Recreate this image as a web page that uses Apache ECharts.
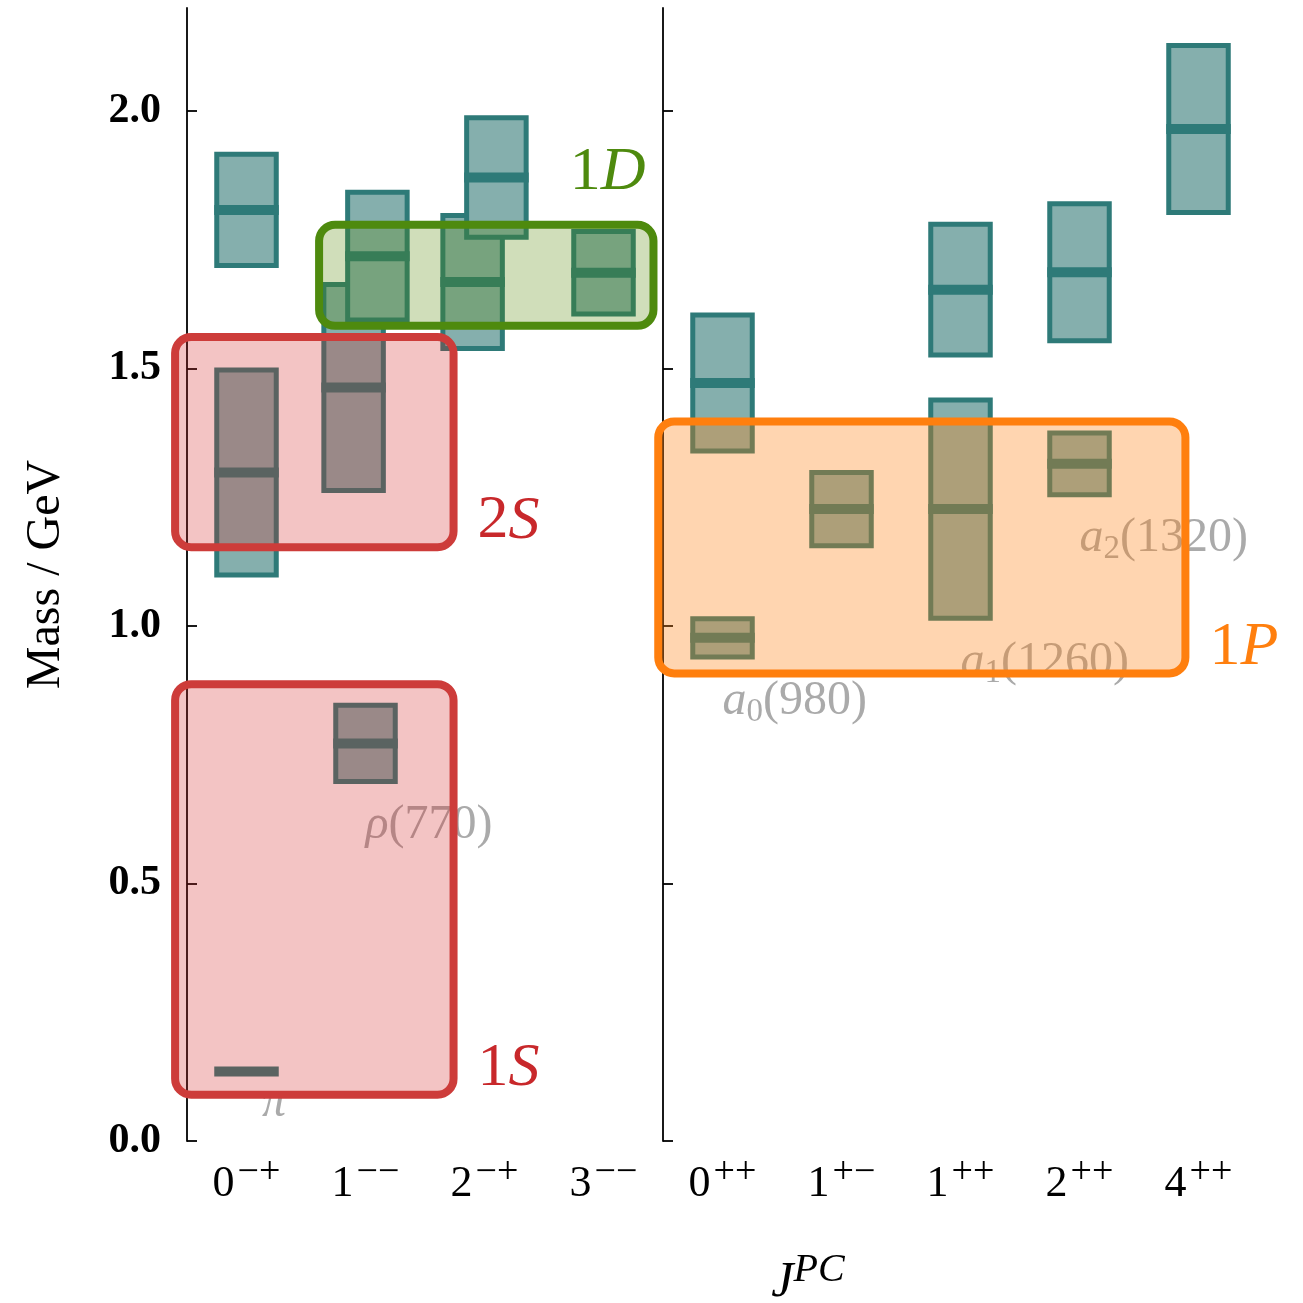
<!DOCTYPE html>
<html>
<head>
<meta charset="utf-8">
<script src="https://cdn.jsdelivr.net/npm/echarts@6/dist/echarts.min.js"></script>
<style>
  html, body { margin: 0; padding: 0; background: #fff; }
  #chart { width: 1303px; height: 1303px; }
</style>
</head>
<body>
<div id="chart"></div>
<script>
// J^PC channels of the two panels: [J, PC]
const leftChannels = [['0', '−+'], ['1', '−−'], ['2', '−+'], ['3', '−−']];
const rightChannels = [['0', '++'], ['1', '+−'], ['1', '++'], ['2', '++'], ['4', '++']];
const massTicks = [0, 0.5, 1.0, 1.5, 2.0];

// Meson states: panel, channel, mass (GeV), uncertainty (GeV), column slot inside the channel
const statePanel   = [0, 0, 0, 0, 0, 0, 0, 0, 0, 1, 1, 1, 1, 1, 1, 1, 1];
const stateChannel = [0, 0, 0, 1, 1, 1, 2, 2, 3, 0, 0, 1, 2, 2, 3, 3, 4];
const stateMass    = [0.135, 1.298, 1.808, 0.772, 1.463, 1.718, 1.668, 1.871, 1.686,
                      0.977, 1.472, 1.227, 1.227, 1.653, 1.315, 1.687, 1.965];
const stateError   = [0.0, 0.199, 0.108, 0.074, 0.200, 0.124, 0.129, 0.116, 0.080,
                      0.037, 0.132, 0.071, 0.212, 0.127, 0.060, 0.133, 0.162];
const stateSlot    = [0, 0, 0, 0, -1, 1, -1, 1, 0, 0, 0, 0, 0, 0, 0, 0, 0];
const stateName    = ['π', '', '', 'ρ(770)', '', '', '', '', '',
                      'a_0(980)', '', '', 'a_1(1260)', '', 'a_2(1320)', '', ''];

// Multiplets: panel, channel range and mass range they enclose
const multipletName  = ['1S', '2S', '1D', '1P'];
const multipletPanel = [0, 0, 0, 1];
const multipletFrom  = [-0.60, -0.60, 0.61, -0.54];
const multipletTo    = [1.74, 1.74, 3.42, 3.89];
const multipletLow   = [0.090, 1.153, 1.583, 0.908];
const multipletHigh  = [0.887, 1.561, 1.779, 1.397];

const SERIF = '"Liberation Serif", "DejaVu Serif", serif';
const TEAL = '#2e7a78';
const TEAL_FILL = '#85afad';
const NAME_GRAY = '#aaaaaa';
const multipletStyle = [
  { stroke: '#cd3c3a', fill: 'rgba(210,38,38,0.27)', text: '#c8282b', place: 'right' },
  { stroke: '#cd3c3a', fill: 'rgba(210,38,38,0.27)', text: '#c8282b', place: 'right' },
  { stroke: '#4e8a0e', fill: 'rgba(81,133,0,0.27)', text: '#4e8a0e', place: 'above' },
  { stroke: '#ff7f0e', fill: 'rgba(255,127,14,0.33)', text: '#ff7f0e', place: 'right' }
];

function channelLabel(channels) {
  return function (v) {
    const c = channels[Math.round(v)];
    return c ? '{n|' + c[0] + '}{g|}{s|' + c[1] + '}' : '';
  };
}

function parseName(name) {
  const m = name.match(/^([^_(]+)(?:_(\w+))?(\(.*\))?$/);
  return { sym: m[1], sub: m[2] || '', num: m[3] || '' };
}

function stateRich(p) {
  let s = '{sym|' + p.sym + '}';
  if (p.sub) s += '{sub|' + p.sub + '}';
  if (p.num) s += '{num|' + p.num + '}';
  return s;
}

function stateData(panel) {
  const out = [];
  for (let i = 0; i < stateMass.length; i++) {
    if (statePanel[i] === panel) out.push([stateChannel[i], stateMass[i], stateError[i], stateSlot[i], i]);
  }
  return out;
}

function multipletData(panel) {
  const out = [];
  for (let i = 0; i < multipletName.length; i++) {
    if (multipletPanel[i] === panel) out.push([i, multipletFrom[i], multipletTo[i], multipletLow[i], multipletHigh[i]]);
  }
  return out;
}

function stateGeom(api) {
  const ch = api.value(0), m = api.value(1), e = api.value(2), slot = api.value(3);
  const bw = api.size([1, 0])[0];
  const c = api.coord([ch, m]);
  const cx = c[0] + slot * 0.1 * bw;
  const top = api.coord([ch, m + e])[1];
  const bot = api.coord([ch, m - e])[1];
  return { cx: cx, cy: c[1], top: top, bot: bot, w: bw / 2, bw: bw };
}

function renderState(params, api) {
  const g = stateGeom(api);
  return {
    type: 'group',
    children: [
      {
        type: 'rect',
        shape: { x: g.cx - g.w / 2, y: g.top, width: g.w, height: g.bot - g.top },
        style: { fill: TEAL_FILL, stroke: TEAL, lineWidth: 5 }
      },
      {
        type: 'rect',
        shape: { x: g.cx - g.w / 2 - 2.5, y: g.cy - 5, width: g.w + 5, height: 10 },
        style: { fill: TEAL }
      }
    ]
  };
}

function renderStateName(params, api) {
  const name = stateName[api.value(4)];
  if (!name) return null;
  const g = stateGeom(api);
  const p = parseName(name);
  // a bare symbol has no tall glyphs, so its ink starts lower: lift and nudge it
  const bare = !p.num;
  return {
    type: 'text',
    x: g.cx + (bare ? 0.13 * g.bw : 0),
    y: g.bot + (bare ? 6 : 18),
    style: {
      text: stateRich(p),
      fill: NAME_GRAY,
      align: 'left',
      verticalAlign: 'top',
      fontSize: 48,
      fontFamily: SERIF,
      rich: {
        sym: { fontSize: 48, fontFamily: SERIF, fontStyle: 'italic', lineHeight: 52 },
        sub: { fontSize: 33, fontFamily: SERIF, lineHeight: 30, height: 30, verticalAlign: 'bottom' },
        num: { fontSize: 48, fontFamily: SERIF, lineHeight: 52 }
      }
    }
  };
}

function renderMultiplet(params, api) {
  const i = api.value(0);
  const st = multipletStyle[i];
  const p0 = api.coord([api.value(1), api.value(4)]);
  const p1 = api.coord([api.value(2), api.value(3)]);
  const name = multipletName[i];
  const label = '{n|' + name.slice(0, 1) + '}{l|' + name.slice(1) + '}';
  const textEl = {
    type: 'text',
    style: {
      text: label,
      fill: st.text,
      fontSize: 62,
      fontFamily: SERIF,
      rich: {
        n: { fontSize: 62, fontFamily: SERIF },
        l: { fontSize: 62, fontFamily: SERIF, fontStyle: 'italic' }
      }
    }
  };
  if (st.place === 'right') {
    textEl.x = p1[0] + 24;
    textEl.y = p1[1] - 26;
    textEl.style.align = 'left';
    textEl.style.verticalAlign = 'middle';
  } else {
    textEl.x = p1[0] - 8;
    textEl.y = p0[1] - 52;
    textEl.style.align = 'right';
    textEl.style.verticalAlign = 'middle';
  }
  return {
    type: 'group',
    children: [
      {
        type: 'rect',
        shape: { x: p0[0], y: p0[1], width: p1[0] - p0[0], height: p1[1] - p0[1], r: 16 },
        style: { fill: st.fill, stroke: st.stroke, lineWidth: 8 }
      },
      textEl
    ]
  };
}

// superscript parity: a short token box pinned to the top of the line lifts it
const channelRich = {
  n: { fontSize: 44, fontFamily: SERIF, color: '#000', lineHeight: 44 },
  g: { width: 3 },
  s: { fontSize: 38, fontFamily: SERIF, color: '#000', lineHeight: 20, height: 22, verticalAlign: 'top' }
};

function xAxisFor(gridIndex, channels) {
  const idx = channels.map(function (_, i) { return i; });
  return {
    gridIndex: gridIndex,
    type: 'value',
    min: -0.5,
    max: channels.length - 0.5,
    axisLine: { show: false, onZero: false },
    axisTick: { show: false },
    splitLine: { show: false },
    axisLabel: {
      customValues: idx,
      formatter: channelLabel(channels),
      margin: 21,
      rich: channelRich
    }
  };
}

function yAxisFor(gridIndex, withLabels) {
  const axis = {
    gridIndex: gridIndex,
    type: 'value',
    min: 0,
    max: 2.2,
    axisLine: { show: true, onZero: false, lineStyle: { color: '#000', width: 1.8 } },
    axisTick: { show: true, inside: true, length: 10, customValues: massTicks, lineStyle: { color: '#000', width: 1.8 } },
    splitLine: { show: false },
    axisLabel: {
      show: withLabels,
      customValues: massTicks,
      formatter: function (v) { return v.toFixed(1); },
      fontFamily: SERIF,
      fontWeight: 'bold',
      fontSize: 42,
      color: '#000',
      margin: 26
    }
  };
  if (withLabels) {
    axis.name = 'Mass / GeV';
    axis.nameLocation = 'middle';
    axis.nameRotate = 90;
    axis.nameGap = 117;
    axis.nameTextStyle = { fontFamily: SERIF, fontSize: 48, color: '#000' };
  }
  return axis;
}

const chart = echarts.init(document.getElementById('chart'), null, { renderer: 'canvas' });

chart.setOption({
  animation: false,
  backgroundColor: '#fff',
  grid: [
    { left: 187, top: 8, width: 476, height: 1133 },
    { left: 663, top: 8, width: 595, height: 1133 }
  ],
  xAxis: [xAxisFor(0, leftChannels), xAxisFor(1, rightChannels)],
  yAxis: [yAxisFor(0, true), yAxisFor(1, false)],
  graphic: [{
    type: 'text',
    x: 808,
    y: 1283,
    style: {
      text: '{j|J}{pc|PC}',
      fill: '#000',
      align: 'center',
      verticalAlign: 'middle',
      fontSize: 50,
      fontFamily: SERIF,
      rich: {
        j: { fontSize: 50, fontFamily: SERIF, fontStyle: 'italic', lineHeight: 48 },
        pc: { fontSize: 40, fontFamily: SERIF, fontStyle: 'italic', lineHeight: 20, height: 22, verticalAlign: 'top' }
      }
    }
  }],
  series: [0, 1].map(function (p) {
    return {
      type: 'custom',
      name: 'states-' + p,
      xAxisIndex: p,
      yAxisIndex: p,
      z: 2,
      clip: false,
      renderItem: renderState,
      data: stateData(p)
    };
  }).concat([0, 1].map(function (p) {
    return {
      type: 'custom',
      name: 'names-' + p,
      xAxisIndex: p,
      yAxisIndex: p,
      z: 3,
      clip: false,
      renderItem: renderStateName,
      data: stateData(p)
    };
  })).concat([0, 1].map(function (p) {
    return {
      type: 'custom',
      name: 'multiplets-' + p,
      xAxisIndex: p,
      yAxisIndex: p,
      z: 4,
      clip: false,
      renderItem: renderMultiplet,
      data: multipletData(p)
    };
  }))
});
</script>
</body>
</html>
